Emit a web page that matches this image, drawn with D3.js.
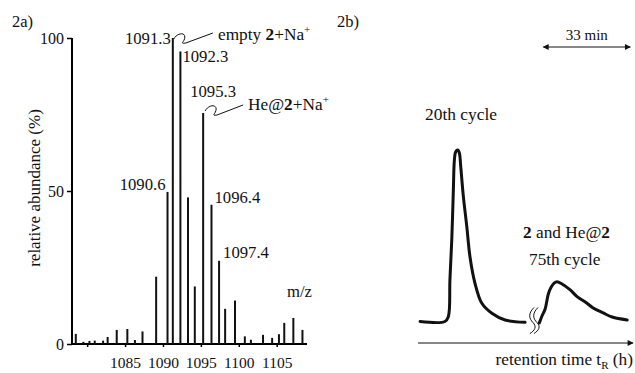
<!DOCTYPE html>
<html>
<head>
<meta charset="utf-8">
<script src="https://cdn.jsdelivr.net/npm/d3@7"></script>
<style>
  body { margin: 0; background: #fff; }
  svg text { font-family: "Liberation Serif", "Times New Roman", serif; fill: #111; }
</style>
</head>
<body>
<div id="chart"></div>
<script>
// 2a) mass spectrum
var mz = [1078.5, 1079.5, 1080.3, 1081.0, 1082.1, 1082.7, 1083.9, 1085.3, 1086.3, 1087.3,
          1089.1, 1090.6, 1091.3, 1092.3, 1093.3, 1094.2, 1095.3, 1096.4, 1097.4, 1098.2,
          1099.5, 1100.8, 1101.6, 1103.2, 1104.4, 1105.3, 1106.0, 1107.2, 1108.4];
var abundance = [3.3, 0.7, 1.0, 1.1, 1.1, 2.3, 4.6, 4.9, 1.3, 4.1,
                 22, 49.7, 100, 95.6, 47.9, 18.8, 75.5, 45.5, 27.2, 11.5,
                 14.2, 2.5, 1.4, 3.0, 2.0, 3.2, 6.9, 8.5, 4.6];
var xTicks = [1080, 1085, 1090, 1095, 1100, 1105];
var xTickLabels = ["", "1085", "1090", "1095", "1100", "1105"];
var yTicks = [0, 50, 100];
var peakLabels = ["1090.6", "1091.3", "1092.3", "1095.3", "1096.4", "1097.4"];

// 2b) chromatogram (time in min, signal in % of 20th cycle max)
var cycle20Time = [0.8, 10.2, 11.5, 12.1, 12.8, 13.4, 13.8, 14.3, 15.1, 15.7, 16.2,
                   17.2, 18.5, 19.7, 21.6, 24.2, 28.0, 33.0, 40.6];
var cycle20Signal = [0, 0, 2.8, 24.2, 47.5, 76.7, 94.2, 99.0, 100, 98.1, 90.3,
                     72.8, 55.3, 37.8, 22.3, 10.6, 4.8, 0.9, -0.5];
var cycle75Time = [46.0, 47.0, 48.2, 49.4, 50.5, 51.6, 52.7, 54.6, 57.7, 60.3,
                   63.4, 66.4, 70.2, 73.6, 79.3];
var cycle75Signal = [-0.8, 3.2, 7.3, 16.0, 20.1, 22.4, 23.2, 21.9, 18.4, 14.5,
                     11.4, 7.9, 5.0, 2.6, 0.9];
var scaleBarMin = 33;

var FONT = "'Liberation Serif', 'Times New Roman', serif";

var svg = d3.select("#chart").append("svg")
    .attr("width", 635)
    .attr("height", 373)
    .attr("font-family", FONT);

// ---------- left panel ----------
var x = d3.scaleLinear().domain([1078, 1109]).range([72, 307]);
var y = d3.scaleLinear().domain([0, 100]).range([344, 38]);

var left = svg.append("g");

left.append("text").attr("x", 12).attr("y", 27).style("font-size", "16.5px").text("2a)");

left.append("text")
    .attr("transform", "translate(40," + 188 + ") rotate(-90)")
    .attr("text-anchor", "middle")
    .style("font-size", "17px")
    .text("relative abundance (%)");

// y axis
var yAxis = left.append("g")
    .attr("transform", "translate(" + x.range()[0] + ",0)")
    .call(d3.axisLeft(y).tickValues(yTicks).tickSize(5).tickPadding(3));
yAxis.attr("font-family", FONT).attr("font-size", 16);
yAxis.select(".domain").attr("stroke-width", 2).attr("d", "M0," + y(100) + "V" + (y(0) + 1));
yAxis.selectAll(".tick line").attr("stroke-width", 1.5);

// x axis
var xAxis = left.append("g")
    .attr("transform", "translate(0," + y(0) + ")")
    .call(d3.axisBottom(x).tickValues(xTicks).tickSize(3).tickPadding(10)
        .tickFormat(function (d, i) { return xTickLabels[i]; }));
xAxis.attr("font-family", FONT).attr("font-size", 15.5);
xAxis.select(".domain").attr("stroke-width", 2).attr("d", "M" + x.range()[0] + ",0H" + x.range()[1]);
xAxis.selectAll(".tick line").attr("stroke-width", 1.5);

// stick spectrum
var peaks = mz.map(function (d, i) { return { mz: d, value: abundance[i] }; });
left.append("g").selectAll("line")
    .data(peaks)
    .enter()
    .append("line")
    .attr("x1", d => x(d.mz))
    .attr("x2", d => x(d.mz))
    .attr("y1", y(0))
    .attr("y2", d => y(d.value))
    .attr("stroke", "#111")
    .attr("stroke-width", 2);

// peak labels (offsets relative to each stick top)
var labelPos = {
    "1090.6": { dx: -2, dy: -2, anchor: "end" },
    "1091.3": { dx: -2, dy: 6, anchor: "end" },
    "1092.3": { dx: 2, dy: 11, anchor: "start" },
    "1095.3": { dx: -13, dy: -16, anchor: "start" },
    "1096.4": { dx: 3, dy: -2, anchor: "start" },
    "1097.4": { dx: 4, dy: -3, anchor: "start" }
};
peakLabels.forEach(function (lab) {
    var v = +lab;
    var i = mz.indexOf(v);
    var p = labelPos[lab];
    left.append("text")
        .attr("x", x(v) + p.dx)
        .attr("y", y(abundance[i]) + p.dy)
        .attr("text-anchor", p.anchor)
        .style("font-size", "16.7px")
        .text(lab);
});

left.append("text").attr("x", 287).attr("y", 297).style("font-size", "16.7px").text("m/z");

// leader squiggles
function squiggle(x0, y0, len) {
    return "M" + x0 + "," + y0 +
        " C" + (x0 + 3) + "," + (y0 - 6) + " " + (x0 + 11) + "," + (y0 - 7) + " " + (x0 + 11) + "," + (y0 - 2) +
        " C" + (x0 + 11) + "," + (y0 + 3) + " " + (x0 + 5) + "," + (y0 + 5) + " " + (x0 + 12) + "," + (y0 + 4) +
        " L" + (x0 + len) + "," + (y0 - 6);
}
left.append("path")
    .attr("d", squiggle(x(1091.3) + 1, y(100) + 1, 39))
    .attr("fill", "none").attr("stroke", "#111").attr("stroke-width", 1);
left.append("path")
    .attr("d", squiggle(x(1095.3) + 2, y(75.5) - 2, 38))
    .attr("fill", "none").attr("stroke", "#111").attr("stroke-width", 1);

var t1 = left.append("text").attr("x", 218).attr("y", 40).style("font-size", "17.3px");
t1.append("tspan").text("empty ");
t1.append("tspan").style("font-weight", "bold").text("2");
t1.append("tspan").text("+Na");
t1.append("tspan").attr("dy", -7).style("font-size", "11px").text("+");

var t2 = left.append("text").attr("x", 248).attr("y", 110).style("font-size", "17.3px");
t2.append("tspan").text("He@");
t2.append("tspan").style("font-weight", "bold").text("2");
t2.append("tspan").text("+Na");
t2.append("tspan").attr("dy", -7).style("font-size", "11px").text("+");

// ---------- right panel ----------
var xt = d3.scaleLinear().domain([0, 81.5]).range([418, 633]);
var yt = d3.scaleLinear().domain([0, 100]).range([321.5, 150]);

var right = svg.append("g");

right.append("text").attr("x", 337).attr("y", 27).style("font-size", "16.5px").text("2b)");

var defs = svg.append("defs");
defs.append("marker")
    .attr("id", "head")
    .attr("viewBox", "0 0 10 10")
    .attr("refX", 9).attr("refY", 5)
    .attr("markerWidth", 10).attr("markerHeight", 6)
    .attr("markerUnits", "userSpaceOnUse")
    .attr("orient", "auto-start-reverse")
    .append("path")
    .attr("d", "M0,0L10,5L0,10z")
    .attr("fill", "#111");

// 33 min scale bar
var barStart = 47.5;
right.append("line")
    .attr("x1", xt(barStart)).attr("x2", xt(barStart + scaleBarMin))
    .attr("y1", 47).attr("y2", 47)
    .attr("stroke", "#111").attr("stroke-width", 1)
    .attr("marker-start", "url(#head)")
    .attr("marker-end", "url(#head)");
right.append("text")
    .attr("x", (xt(barStart) + xt(barStart + scaleBarMin)) / 2)
    .attr("y", 40)
    .attr("text-anchor", "middle")
    .style("font-size", "15px")
    .text(scaleBarMin + " min");

// retention time axis
right.append("line")
    .attr("x1", xt(0)).attr("x2", xt(81.5))
    .attr("y1", 343).attr("y2", 343)
    .attr("stroke", "#111").attr("stroke-width", 1.2)
    .attr("marker-end", "url(#head)");
var tr = right.append("text").attr("x", xt(81.5)).attr("y", 365)
    .attr("text-anchor", "end").style("font-size", "17.3px");
tr.append("tspan").text("retention time t");
tr.append("tspan").attr("dy", 4).style("font-size", "11px").text("R");
tr.append("tspan").attr("dy", -4).text(" (h)");

var line = d3.line()
    .x(d => xt(d[0]))
    .y(d => yt(d[1]))
    .curve(d3.curveCatmullRom.alpha(0.5));

right.append("path")
    .datum(cycle20Time.map((t, i) => [t, cycle20Signal[i]]))
    .attr("d", line)
    .attr("fill", "none").attr("stroke", "#111").attr("stroke-width", 3)
    .attr("stroke-linejoin", "round").attr("stroke-linecap", "round");

right.append("path")
    .datum(cycle75Time.map((t, i) => [t, cycle75Signal[i]]))
    .attr("d", line)
    .attr("fill", "none").attr("stroke", "#111").attr("stroke-width", 3)
    .attr("stroke-linejoin", "round").attr("stroke-linecap", "round");

// axis break mark
var bx = xt(43.2), by = yt(0) - 1;
[0, 4].forEach(function (off) {
    var cx = bx + off;
    right.append("path")
        .attr("d", "M" + (cx + 2) + "," + (by - 13) +
            " C" + (cx - 4) + "," + (by - 7) + " " + (cx - 3) + "," + (by - 2) + " " + (cx + 1) + "," + (by + 2) +
            " C" + (cx + 5) + "," + (by + 6) + " " + (cx + 3) + "," + (by + 10) + " " + (cx - 2) + "," + (by + 13))
        .attr("fill", "none").attr("stroke", "#111").attr("stroke-width", 1);
});

right.append("text").attr("x", 425).attr("y", 120).style("font-size", "17.4px").text("20th cycle");

var t3 = right.append("text").attr("x", 523).attr("y", 238).style("font-size", "17.3px");
t3.append("tspan").style("font-weight", "bold").text("2");
t3.append("tspan").text(" and He@");
t3.append("tspan").style("font-weight", "bold").text("2");

right.append("text").attr("x", 529).attr("y", 265).style("font-size", "17.3px").text("75th cycle");
</script>
</body>
</html>
